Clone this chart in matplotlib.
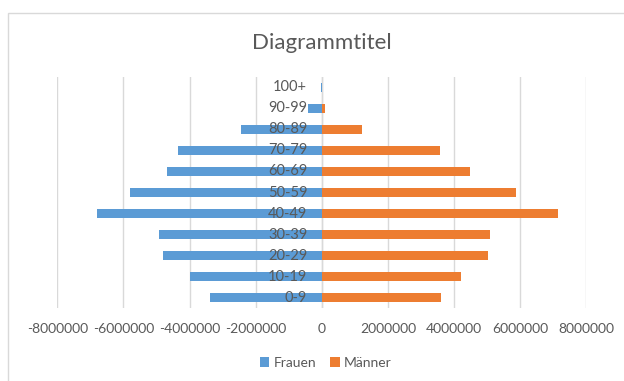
import matplotlib.pyplot as plt
import matplotlib.patches as mpatches
from matplotlib.ticker import FuncFormatter

plt.rcParams['font.family'] = ['Lato', 'DejaVu Sans']

# age groups, bottom to top
groups = ['0-9', '10-19', '20-29', '30-39', '40-49', '50-59',
          '60-69', '70-79', '80-89', '90-99', '100+']
frauen = [3380000, 3990000, 4800000, 4920000, 6810000, 5800000,
          4680000, 4350000, 2430000, 420000, 20000]
maenner = [3600000, 4210000, 5030000, 5090000, 7140000, 5870000,
           4480000, 3560000, 1210000, 90000, 8000]
xticks = [-8000000, -6000000, -4000000, -2000000, 0,
          2000000, 4000000, 6000000, 8000000]

blue = '#5b9bd5'
orange = '#ed7d31'
grey_txt = '#595959'
grid_c = '#d9d9d9'

fig = plt.figure(figsize=(6.24, 3.81), dpi=100)
ax = fig.add_axes([0.0918, 0.1911, 0.8478, 0.6073])

y = list(range(len(groups)))
ax.barh(y, [-v for v in frauen], height=0.43, color=blue, label='Frauen', zorder=2)
ax.barh(y, maenner, height=0.43, color=orange, label='Männer', zorder=2)

ax.set_xlim(-8000000, 8000000)
ax.set_ylim(-0.5, len(groups) - 0.5)
ax.set_xticks(xticks)
ax.xaxis.set_major_formatter(FuncFormatter(lambda v, p: '%d' % v))
ax.tick_params(axis='x', length=0, pad=11, labelsize=10, labelcolor=grey_txt)
ax.set_yticks([])
ax.grid(axis='x', color=grid_c, lw=1)
ax.set_axisbelow(True)
for s in ax.spines.values():
    s.set_visible(False)
ax.axvline(0, color=grid_c, lw=1, zorder=1)

# category labels sit next to the zero axis, over the bars
for yi, g in zip(y, groups):
    ax.annotate(g, (0, yi), xytext=(-10.5, 0), textcoords='offset points',
                ha='right', va='center', fontsize=10.5, color=grey_txt, zorder=3)

fig.text(0.516, 1 - 43 / 381, 'Diagrammtitel', ha='center', va='center',
         fontsize=16, color=grey_txt)

fig.legend(loc='center', bbox_to_anchor=(0.522, 1 - 363 / 381), ncol=2,
           frameon=False, fontsize=10, handlelength=0.7, handleheight=0.7,
           handletextpad=0.3, columnspacing=1.0, labelcolor=grey_txt)

fig.patches.append(mpatches.Rectangle((8 / 624, -0.1), 1.2, 1 - 13 / 381 + 0.1,
                                      transform=fig.transFigure, fill=False,
                                      edgecolor=grid_c, lw=1))

fig.savefig('out.png', dpi=100)
